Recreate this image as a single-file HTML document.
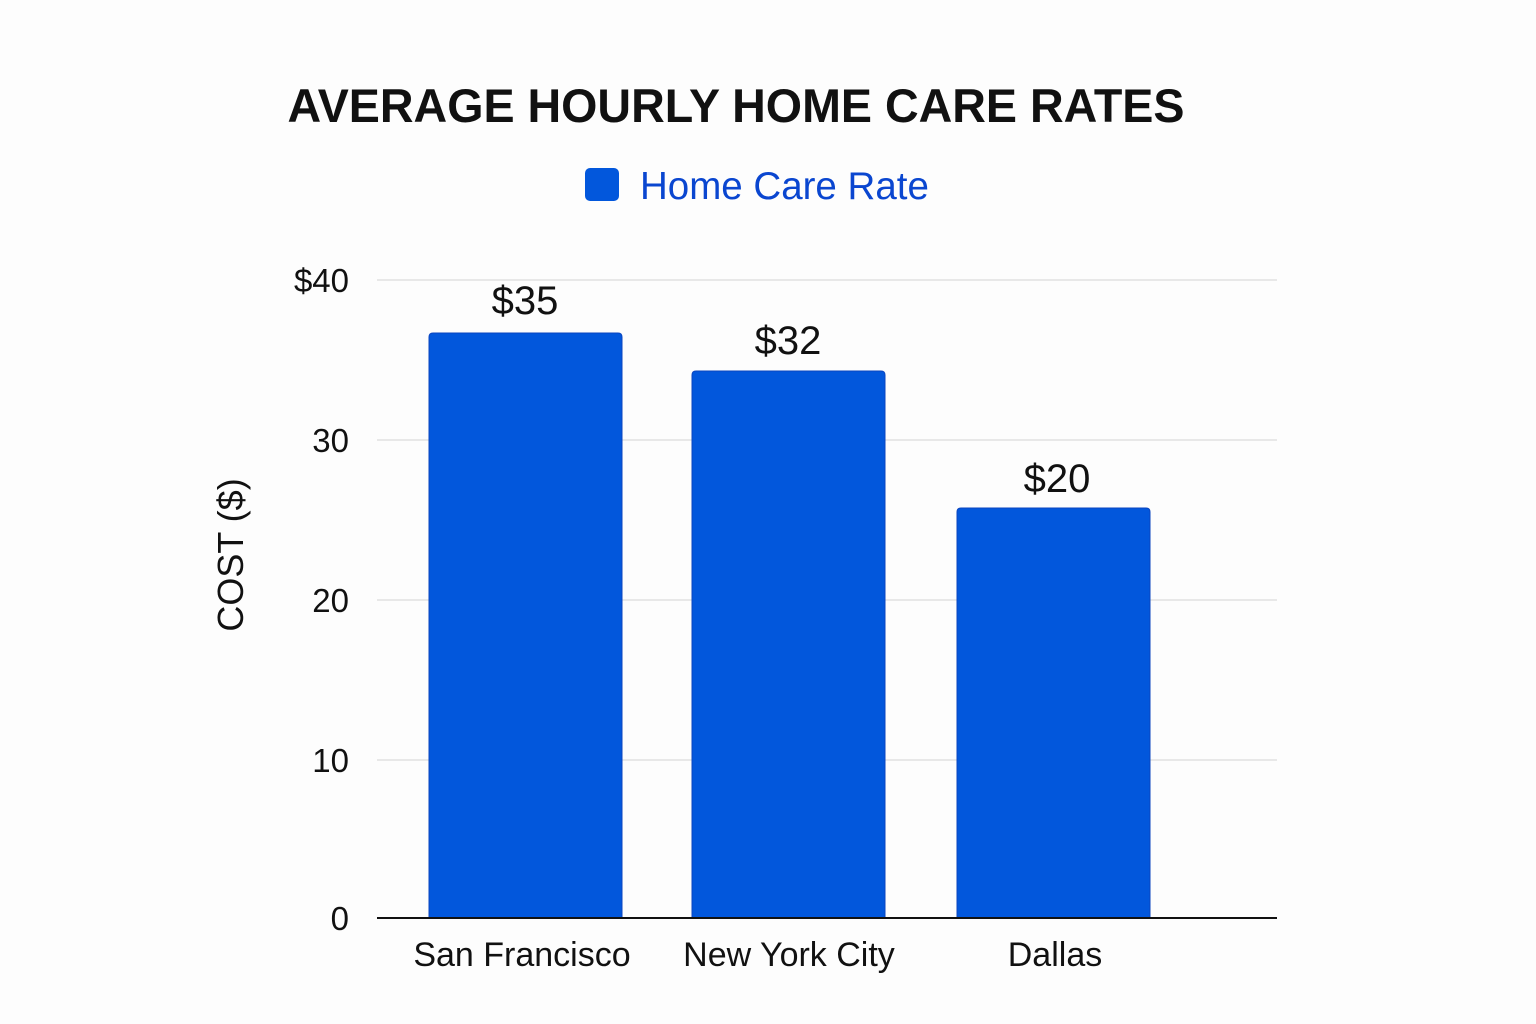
<!DOCTYPE html>
<html><head><meta charset="utf-8"><style>
html,body{margin:0;padding:0;background:#fdfdfd;}
body{width:1536px;height:1024px;position:relative;overflow:hidden;font-family:"Liberation Sans",sans-serif;}
</style></head><body>
<svg width="1536" height="1024" style="position:absolute;left:0;top:0">
<g stroke="#e2e2e2" stroke-width="1.5">
<line x1="377" y1="280" x2="1277" y2="280"/>
<line x1="377" y1="440" x2="1277" y2="440"/>
<line x1="377" y1="600" x2="1277" y2="600"/>
<line x1="377" y1="760" x2="1277" y2="760"/>
</g>
<g fill="#0257dc" stroke="#0a45c0" stroke-width="1">
<path d="M429 918 V337 Q429 333 433 333 H618 Q622 333 622 337 V918Z"/>
<path d="M692 918 V375 Q692 371 696 371 H881 Q885 371 885 375 V918Z"/>
<path d="M957 918 V512 Q957 508 961 508 H1146 Q1150 508 1150 512 V918Z"/>
</g>
<line x1="377" y1="918" x2="1277" y2="918" stroke="#111" stroke-width="2"/>
<rect x="585" y="168" width="34" height="33" rx="5" fill="#0257dc"/>
<g font-family="Liberation Sans, sans-serif" fill="#111">
<text x="736" y="122" font-size="47" font-weight="bold" text-anchor="middle" textLength="897" lengthAdjust="spacingAndGlyphs">AVERAGE HOURLY HOME CARE RATES</text>
<text x="640" y="199" font-size="38.5" fill="#0a46d0">Home Care Rate</text>
<g font-size="33" text-anchor="end">
<text x="349" y="292">$40</text>
<text x="349" y="452">30</text>
<text x="349" y="612">20</text>
<text x="349" y="772">10</text>
<text x="349" y="930">0</text>
</g>
<g font-size="40" text-anchor="middle">
<text x="525" y="314">$35</text>
<text x="788" y="354">$32</text>
<text x="1057" y="492">$20</text>
</g>
<g font-size="34" text-anchor="middle">
<text x="522" y="966">San Francisco</text>
<text x="789" y="966">New York City</text>
<text x="1055" y="966">Dallas</text>
</g>
<text transform="translate(243,555) rotate(-90)" font-size="36" text-anchor="middle">COST ($)</text>
</g>
</svg>
</body></html>
